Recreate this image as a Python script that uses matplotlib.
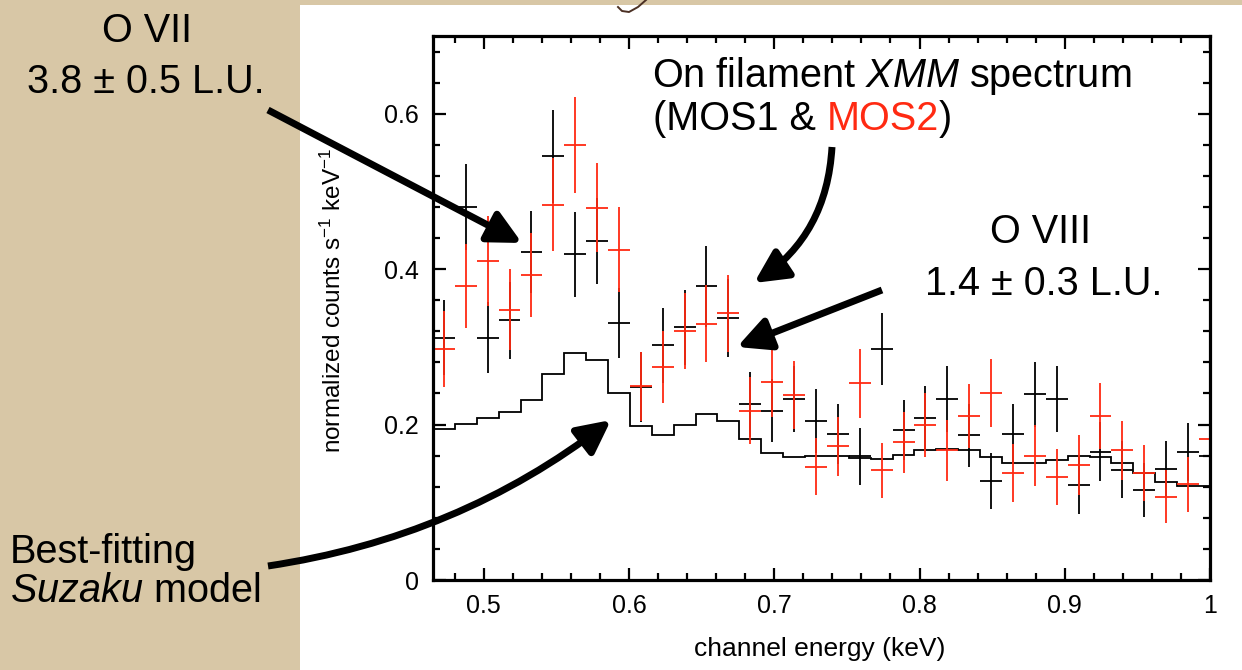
import matplotlib.pyplot as plt
import matplotlib.ticker as mticker
from matplotlib.patches import Rectangle, FancyArrowPatch, ArrowStyle
from matplotlib.lines import Line2D
import numpy as np

# channel centres (keV) and spectra
energy = [0.4725, 0.4876, 0.5026, 0.5177, 0.5328, 0.5479, 0.5629, 0.5780, 0.5931,
          0.6081, 0.6232, 0.6383, 0.6533, 0.6684, 0.6835, 0.6986, 0.7136, 0.7287,
          0.7438, 0.7588, 0.7739, 0.7890, 0.8040, 0.8191, 0.8342, 0.8493, 0.8643,
          0.8794, 0.8945, 0.9095, 0.9246, 0.9397, 0.9547, 0.9698, 0.9849, 0.9999]
half_width = 0.00754

mos1 = [0.312, 0.480, 0.312, 0.334, 0.422, 0.545, 0.419, 0.436, 0.331,
        0.248, 0.302, 0.325, 0.378, 0.337, 0.226, 0.218, 0.233, 0.205,
        0.188, 0.159, 0.297, 0.193, 0.208, 0.233, 0.186, 0.128, 0.188,
        0.239, 0.233, 0.122, 0.165, 0.142, 0.116, 0.143, 0.165, 0.159]
mos1_err = [0.048, 0.055, 0.046, 0.050, 0.053, 0.060, 0.055, 0.055, 0.045,
            0.045, 0.048, 0.048, 0.052, 0.050, 0.042, 0.041, 0.043, 0.041,
            0.039, 0.037, 0.046, 0.039, 0.041, 0.043, 0.041, 0.036, 0.039,
            0.042, 0.043, 0.037, 0.038, 0.037, 0.035, 0.036, 0.037, 0.040]

mos2 = [0.297, 0.378, 0.410, 0.348, 0.393, 0.483, 0.560, 0.479, 0.425,
        0.249, 0.274, 0.320, 0.330, 0.343, 0.218, 0.255, 0.238, 0.146,
        0.172, 0.253, 0.141, 0.177, 0.199, 0.167, 0.211, 0.241, 0.138,
        0.160, 0.132, 0.148, 0.211, 0.167, 0.138, 0.107, 0.123, 0.182]
mos2_err = [0.049, 0.054, 0.058, 0.052, 0.054, 0.060, 0.062, 0.057, 0.055,
            0.045, 0.046, 0.049, 0.050, 0.050, 0.043, 0.045, 0.044, 0.037,
            0.038, 0.044, 0.035, 0.039, 0.041, 0.039, 0.041, 0.044, 0.037,
            0.039, 0.036, 0.038, 0.042, 0.038, 0.036, 0.034, 0.035, 0.040]

suzaku_model = [0.194, 0.201, 0.208, 0.216, 0.232, 0.265, 0.292, 0.283, 0.240,
                0.198, 0.186, 0.200, 0.213, 0.205, 0.182, 0.164, 0.158, 0.159,
                0.159, 0.157, 0.156, 0.161, 0.167, 0.169, 0.167, 0.158, 0.151,
                0.150, 0.155, 0.160, 0.158, 0.150, 0.138, 0.126, 0.121, 0.121]

RED = '#ff2a12'
W, H = 1242, 670

plt.rcParams['font.family'] = ['Liberation Sans', 'DejaVu Sans']
plt.rcParams['mathtext.fontset'] = 'custom'
plt.rcParams['mathtext.rm'] = 'Liberation Sans'
plt.rcParams['mathtext.it'] = 'Liberation Sans:italic'
plt.rcParams['mathtext.bf'] = 'Liberation Sans:bold'


def P(x, y):
    # image pixel (y down) -> figure fraction
    return (x / W, 1 - y / H)


fig = plt.figure(figsize=(W / 100, H / 100), dpi=100)
fig.patch.set_facecolor('#d8c7a6')
fig.add_artist(Rectangle((300 / W, 0), 1 - 300 / W, 665 / H, transform=fig.transFigure,
                         facecolor='white', edgecolor='none', zorder=-10))

ax = fig.add_axes([433 / W, 90 / H, 777 / W, 544 / H])

e = np.array(energy)
edges = np.append(e - half_width, e[-1] + half_width)
ax.stairs(suzaku_model, edges, color='black', lw=1.3, baseline=None)
ax.errorbar(energy, mos1, xerr=half_width, yerr=mos1_err, fmt='none',
            ecolor='black', elinewidth=1.3, capsize=0)
ax.errorbar(energy, mos2, xerr=half_width, yerr=mos2_err, fmt='none',
            ecolor=RED, elinewidth=1.3, capsize=0)

ax.set_xlim(0.465, 1.0)
ax.set_ylim(0, 0.70)
ax.xaxis.set_major_locator(mticker.MultipleLocator(0.1))
ax.xaxis.set_minor_locator(mticker.MultipleLocator(0.02))
ax.yaxis.set_major_locator(mticker.MultipleLocator(0.2))
ax.yaxis.set_minor_locator(mticker.MultipleLocator(0.04))
fmt = mticker.FuncFormatter(lambda v, p: '%g' % round(v, 3))
ax.xaxis.set_major_formatter(fmt)
ax.yaxis.set_major_formatter(fmt)
ax.tick_params(which='both', direction='in', top=True, right=True, width=1.6,
               labelsize=18, pad=10)
ax.tick_params(which='major', length=9)
ax.tick_params(which='minor', length=5)
for s in ax.spines.values():
    s.set_linewidth(2.3)

ax.set_xlabel('channel energy (keV)', fontsize=19)
ax.set_ylabel('normalized counts s$^{-1}$ keV$^{-1}$', fontsize=17.5)
ax.xaxis.set_label_coords((820 - 433) / 777, (580 - 637) / 544)
ax.yaxis.set_label_coords((346 - 433) / 777, (580 - 300) / 544)

# annotation texts
big = 28.5
fig.text(*P(147, 42), 'O VII', fontsize=big, ha='center', va='baseline')
fig.text(*P(146, 93), '3.8 ± 0.5 L.U.', fontsize=big, ha='center', va='baseline')
fig.text(*P(1041, 243), 'O VIII', fontsize=big, ha='center', va='baseline')
fig.text(*P(1044, 295), '1.4 ± 0.3 L.U.', fontsize=big, ha='center', va='baseline')
fig.text(*P(10, 563), 'Best-fitting', fontsize=big, ha='left', va='baseline')
fig.text(*P(10, 602), r'$\mathit{Suzaku}$ model', fontsize=big, ha='left', va='baseline')
fig.text(*P(652, 87), r'On filament $\mathit{XMM}$ spectrum', fontsize=big,
         ha='left', va='baseline')

# "(MOS1 & MOS2)" with MOS2 in red
r = fig.canvas.get_renderer()


def width(s):
    t = fig.text(0, 0, s, fontsize=big)
    w = t.get_window_extent(r).width
    t.remove()
    return w


x0 = 653
fig.text(*P(x0, 130), '(MOS1 &', fontsize=big, ha='left', va='baseline')
xm = x0 + width('(MOS1 & M') - width('M')
fig.text(*P(xm, 130), 'MOS2', fontsize=big, ha='left', va='baseline', color=RED)
xp = x0 + width('(MOS1 & MOS2)') - width(')')
fig.text(*P(xp, 130), ')', fontsize=big, ha='left', va='baseline')

# tail of the slide title's script letter peeking in at the top
tail = [(646, 0), (638, 7), (629, 12), (622, 11), (618, 7)]
fig.add_artist(Line2D([P(*p)[0] for p in tail], [P(*p)[1] for p in tail],
                      transform=fig.transFigure, color='#4b3024', lw=1.4))

# arrows
style = ArrowStyle('-|>', head_length=1.0, head_width=0.5)
arrows = [((268, 110), (522, 243), 0.0),
          ((832, 147), (754, 283), -0.25),
          ((882, 290), (737, 347), 0.0),
          ((268, 566), (611, 420), 0.13)]
for a, b, rad in arrows:
    fig.add_artist(FancyArrowPatch(P(*a), P(*b), transform=fig.transFigure,
                                   arrowstyle=style, mutation_scale=20,
                                   connectionstyle='arc3,rad=%g' % rad,
                                   lw=5, color='black', capstyle='butt',
                                   shrinkA=0, shrinkB=0))

fig.savefig('out.png', dpi=100, facecolor=fig.get_facecolor())
